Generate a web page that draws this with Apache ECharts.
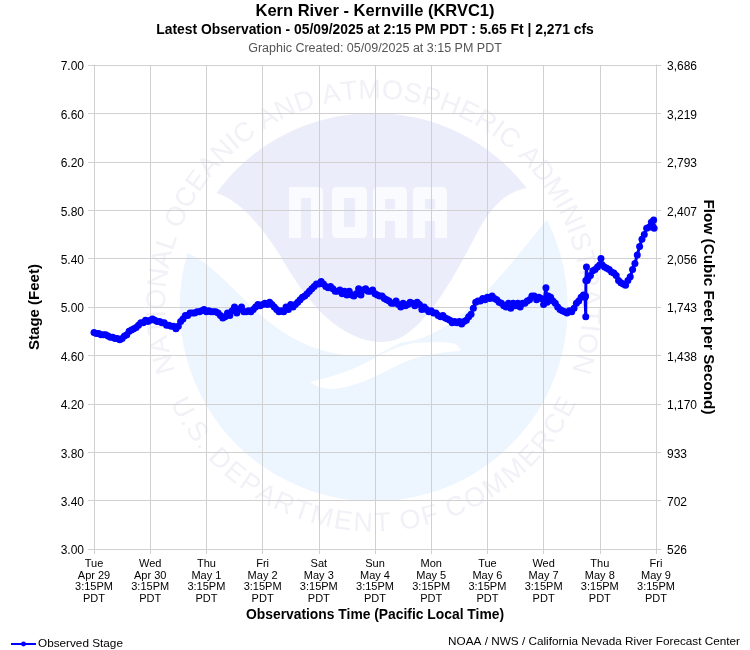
<!DOCTYPE html>
<html><head><meta charset="utf-8">
<style>html,body{margin:0;padding:0;background:#fff}#c{width:750px;height:650px}</style>
<script src="https://cdn.jsdelivr.net/npm/echarts@6/dist/echarts.min.js"></script>
</head><body><div id="c"></div>
<script>
var titleText = "Kern River - Kernville (KRVC1)";
var subtitleText = "Latest Observation - 05/09/2025 at 2:15 PM PDT : 5.65 Ft | 2,271 cfs";
var createdText = "Graphic Created: 05/09/2025 at 3:15 PM PDT";
var creditText = "NOAA / NWS / California Nevada River Forecast Center";
var xTickLabels = ["Tue\nApr 29\n3:15PM\nPDT","Wed\nApr 30\n3:15PM\nPDT","Thu\nMay 1\n3:15PM\nPDT","Fri\nMay 2\n3:15PM\nPDT","Sat\nMay 3\n3:15PM\nPDT","Sun\nMay 4\n3:15PM\nPDT","Mon\nMay 5\n3:15PM\nPDT","Tue\nMay 6\n3:15PM\nPDT","Wed\nMay 7\n3:15PM\nPDT","Thu\nMay 8\n3:15PM\nPDT","Fri\nMay 9\n3:15PM\nPDT"];
var flowTickLabels = ["526","702","933","1,170","1,438","1,743","2,056","2,407","2,793","3,219","3,686"];
// [hours after first tick, stage in feet]
var observedStage = [
[0,4.79],[1,4.78],[2,4.78],[3,4.77],[4,4.77],[5,4.77],[6,4.76],[7,4.75],[8,4.75],[9,4.74],[10,4.74],[11,4.73],[12,4.74],[13,4.76],[14,4.77],[15,4.80],[16,4.81],[17,4.82],[18,4.83],[19,4.85],[20,4.87],[21,4.87],[22,4.89],[23,4.88],
[24,4.89],[25,4.90],[26,4.89],[27,4.88],[28,4.88],[29,4.87],[30,4.87],[31,4.85],[32,4.85],[33,4.84],[34,4.84],[35,4.82],[36,4.84],[37,4.88],[38,4.90],[39,4.93],[40,4.93],[41,4.95],[42,4.95],[43,4.95],[44,4.96],[45,4.96],[46,4.97],[47,4.98],
[48,4.96],[49,4.97],[50,4.96],[51,4.96],[52,4.96],[53,4.95],[54,4.93],[55,4.91],[56,4.92],[57,4.95],[58,4.93],[59,4.97],[60,5.00],[61,4.95],[62,4.98],[63,5.00],[64,4.96],[65,4.96],[66,4.97],[67,4.96],[68,4.98],[69,5.00],[70,5.02],[71,5.01],
[72,5.02],[73,5.03],[74,5.02],[75,5.04],[76,5.02],[77,5.00],[78,4.98],[79,4.96],[80,4.97],[81,4.96],[82,5.00],[83,4.98],[84,5.02],[85,5.00],[86,5.02],[87,5.04],[88,5.06],[89,5.08],[90,5.09],[91,5.11],[92,5.13],[93,5.15],[94,5.17],[95,5.19],
[96,5.19],[97,5.21],[98,5.19],[99,5.17],[100,5.16],[101,5.17],[102,5.15],[103,5.13],[104,5.13],[105,5.14],[106,5.11],[107,5.13],[108,5.10],[109,5.13],[110,5.10],[111,5.09],[112,5.11],[113,5.15],[114,5.10],[115,5.14],[116,5.15],[117,5.13],[118,5.13],[119,5.14],
[120,5.11],[121,5.10],[122,5.09],[123,5.09],[124,5.07],[125,5.06],[126,5.05],[127,5.03],[128,5.03],[129,5.05],[130,5.02],[131,5.00],[132,5.03],[133,5.01],[134,5.02],[135,5.04],[136,5.03],[137,5.01],[138,5.04],[139,5.02],[140,4.98],[141,5.00],[142,4.98],[143,4.96],
[144,4.97],[145,4.95],[146,4.95],[147,4.93],[148,4.92],[149,4.93],[150,4.91],[151,4.90],[152,4.89],[153,4.87],[154,4.88],[155,4.87],[156,4.88],[157,4.86],[158,4.88],[159,4.89],[160,4.92],[161,4.94],[162,4.99],[163,5.04],[164,5.05],[165,5.05],[166,5.07],[167,5.06],
[168,5.08],[169,5.07],[170,5.09],[171,5.07],[172,5.06],[173,5.04],[174,5.03],[175,5.01],[176,5.00],[177,5.03],[178,4.99],[179,5.03],[180,5.01],[181,5.03],[182,5.00],[183,5.03],[184,5.03],[185,5.05],[186,5.06],[187,5.09],[188,5.09],[189,5.06],[190,5.08],[191,5.07],
[192,5.02],[193,5.16],[193.5,5.04],[194,5.09],[195,5.08],[196,5.05],[197,5.03],[198,5.00],[199,4.98],[200,4.97],[201,4.96],[202,4.95],[203,4.97],[204,4.96],[205,4.99],[206,5.03],[207,5.05],[208,5.08],[209,5.10],[209.7,5.08],[209.9,5.09],[210,4.92],[210.05,5.22],[210.3,5.33],[210.6,5.22],
[211,5.24],[212,5.26],[213,5.30],[214,5.31],[215,5.33],[216,5.35],[216.5,5.40],[217,5.35],[218,5.33],[219,5.32],[220,5.31],[221,5.29],[222,5.28],[223,5.26],[224,5.22],[225,5.20],[226,5.19],[227,5.18],[228,5.22],[229,5.25],[230,5.31],[231,5.36],[232,5.43],[233,5.50],[234,5.56],[235,5.60],[236,5.65],[237,5.66],[238,5.70],[238.5,5.67],[239,5.72],[239.2,5.65]
];

var c = echarts.init(document.getElementById('c'));
var FF = '"Liberation Sans", Arial, sans-serif';
var ink = '#ebedfa', sky = '#edf5fe', seal = '#f1f1f7';
var cx = 373.5, cy = 307;

function arcText(text, spanDeg, radius, bottom) {
  var m = document.createElement('canvas').getContext('2d');
  m.font = '27px "Liberation Sans"';
  var widths = text.split('').map(function (ch) { return m.measureText(ch).width; });
  var total = widths.reduce(function (a, b) { return a + b; }, 0);
  var pos = 0, out = [];
  text.split('').forEach(function (ch, i) {
    var f = (pos + widths[i] / 2) / total;
    pos += widths[i];
    var a = (-spanDeg / 2 + spanDeg * f) * Math.PI / 180;
    out.push({
      type: 'text', z: -1, silent: true,
      x: cx + radius * Math.sin(a),
      y: bottom ? cy + radius * Math.cos(a) : cy - radius * Math.cos(a),
      rotation: bottom ? a : -a,
      style: { text: ch, font: '27px "Liberation Sans"', fill: seal, textAlign: 'center', textVerticalAlign: 'middle' }
    });
  });
  return out;
}
var shapeCount = 0;
function pathEl(d, fill, z) {
  var name = 'wm' + (shapeCount++);
  echarts.graphic.registerShape(name, echarts.graphic.extendPath(d, {}));
  return { type: name, z: z, silent: true, style: { fill: fill } };
}
function blockLetter(x, isA) {
  var y0 = 187, y1 = 238, w = 34, s = 12;
  if (isA) return 'M' + (x + 5) + ' ' + y0 + 'L' + (x + w - 5) + ' ' + y0 + 'Q' + (x + w) + ' ' + y0 + ' ' + (x + w) + ' ' + (y0 + 5) + 'L' + (x + w) + ' ' + y1 + 'L' + (x + w - s) + ' ' + y1 + 'L' + (x + w - s) + ' ' + (y0 + 34) + 'L' + (x + s) + ' ' + (y0 + 34) + 'L' + (x + s) + ' ' + y1 + 'L' + x + ' ' + y1 + 'L' + x + ' ' + (y0 + 5) + 'Q' + x + ' ' + y0 + ' ' + (x + 5) + ' ' + y0 + 'Z';
  return 'M' + x + ' ' + y0 + 'L' + (x + w - 5) + ' ' + y0 + 'Q' + (x + w) + ' ' + y0 + ' ' + (x + w) + ' ' + (y0 + 5) + 'L' + (x + w) + ' ' + y1 + 'L' + (x + w - s) + ' ' + y1 + 'L' + (x + w - s) + ' ' + (y0 + 11) + 'L' + (x + s) + ' ' + (y0 + 11) + 'L' + (x + s) + ' ' + y1 + 'L' + x + ' ' + y1 + 'Z';
}
var shapes = [
  pathEl('M187.5 253 A194 194 0 1 0 547 220 C525 245 490 295 452 322 C430 337 415 341 400 343 L375 356 C340 358 300 350 262 316 C235 292 210 262 187.5 253 Z', sky, -3),
  pathEl('M216.5 193 A194 194 0 0 1 526.7 188 C505 192 490 208 476 235 C455 275 430 322 400 338 C385 345 365 343 345 331 C318 315 298 287 278 252 C258 222 240 201 216.5 193 Z', ink, -2),
  pathEl('M413 343 C430 342 445 342 452 343 C458 345 460 348 461 351 C440 352 420 355 400 364 C380 374 355 388 332 389 C322 389 315 386 310 382 C340 375 360 367 380 355 C392 349 403 345 413 343 Z', '#ffffff', -2),
  pathEl(blockLetter(289, false), '#fafbfe', -1),
  pathEl('M337 187L362 187Q367 187 367 192L367 233Q367 238 362 238L337 238Q332 238 332 233L332 192Q332 187 337 187ZM344 198L344 227L355 227L355 198Z', '#fafbfe', -1),
  pathEl(blockLetter(373, true), '#fafbfe', -1),
  pathEl(blockLetter(413, true), '#fafbfe', -1),
  { type: 'rect', z: -1, silent: true, shape: { x: 385, y: 199, width: 10, height: 10 }, style: { fill: ink } },
  { type: 'rect', z: -1, silent: true, shape: { x: 425, y: 199, width: 10, height: 10 }, style: { fill: ink } }
].concat(arcText('NATIONAL OCEANIC AND ATMOSPHERIC ADMINISTRATION', 216, 216, false))
 .concat(arcText('U.S. DEPARTMENT OF COMMERCE', 130, 217, true));

c.setOption({
  animation: false,
  backgroundColor: '#fff',
  textStyle: { fontFamily: FF },
  title: [
    { text: titleText, left: 375, top: 3, padding: 0, textAlign: 'center', textStyle: { fontFamily: FF, fontSize: 16.5, fontWeight: 'bold', color: '#000' } },
    { text: subtitleText, left: 375, top: 23, padding: 0, textAlign: 'center', textStyle: { fontFamily: FF, fontSize: 13.87, fontWeight: 'bold', color: '#000' } },
    { text: createdText, left: 375, top: 42, padding: 0, textAlign: 'center', textStyle: { fontFamily: FF, fontSize: 12.5, fontWeight: 'normal', color: '#555' } },
    { text: creditText, right: 10, top: 636, padding: 0, textStyle: { fontFamily: FF, fontSize: 11.75, fontWeight: 'normal', color: '#000' } }
  ],
  graphic: { elements: shapes },
  grid: { left: 94, right: 94, top: 65, bottom: 101, containLabel: false },
  legend: { left: 10, top: 638, padding: 0, itemWidth: 25, itemHeight: 6, data: ['Observed Stage'], textStyle: { fontFamily: FF, fontSize: 11.75, color: '#000', padding: [0, 0, 0, -3] } },
  xAxis: {
    type: 'value', min: 0, max: 240, interval: 24,
    name: 'Observations Time (Pacific Local Time)', nameLocation: 'middle', nameGap: 59, nameMoveOverlap: false,
    nameTextStyle: { fontFamily: FF, fontSize: 13.85, fontWeight: 'bold', color: '#000' },
    axisLine: { show: true, lineStyle: { color: '#d0d0d0' } },
    axisTick: { show: true, length: 5, lineStyle: { color: '#d0d0d0' } },
    splitLine: { show: true, lineStyle: { color: '#d0d0d0', width: 1 } },
    axisLabel: { margin: 9, fontFamily: FF, fontSize: 11, lineHeight: 11.7, color: '#000', showMinLabel: true, showMaxLabel: true, hideOverlap: false,
      formatter: function (v) { return xTickLabels[Math.round(v / 24)]; } }
  },
  yAxis: [
    { type: 'value', min: 3, max: 7, interval: 0.4, position: 'left',
      name: 'Stage (Feet)', nameLocation: 'middle', nameGap: 52, nameRotate: 90, nameMoveOverlap: false,
      nameTextStyle: { fontFamily: FF, fontSize: 15, fontWeight: 'bold', color: '#000' },
      axisLine: { show: true, lineStyle: { color: '#d0d0d0' } },
      axisTick: { show: true, length: 6, lineStyle: { color: '#d0d0d0' } },
      splitLine: { show: true, lineStyle: { color: '#d0d0d0', width: 1 } },
      axisLabel: { margin: 10, fontFamily: FF, fontSize: 12, color: '#000', verticalAlign: 'top', lineHeight: 4, formatter: function (v) { return v.toFixed(2); } } },
    { type: 'value', min: 3, max: 7, interval: 0.4, position: 'right',
      name: 'Flow (Cubic Feet per Second)', nameLocation: 'middle', nameGap: 44.5, nameRotate: -90, nameMoveOverlap: false,
      nameTextStyle: { fontFamily: FF, fontSize: 15.3, fontWeight: 'bold', color: '#000' },
      axisLine: { show: true, lineStyle: { color: '#d0d0d0' } },
      axisTick: { show: true, length: 5, lineStyle: { color: '#d0d0d0' } },
      splitLine: { show: false },
      axisLabel: { margin: 11, fontFamily: FF, fontSize: 12, color: '#000', verticalAlign: 'top', lineHeight: 4, formatter: function (v) { return flowTickLabels[Math.round((v - 3) / 0.4)]; } } }
  ],
  series: [{
    name: 'Observed Stage', type: 'line', yAxisIndex: 0,
    data: observedStage,
    symbol: 'circle', symbolSize: 7, showSymbol: true, showAllSymbols: true,
    lineStyle: { color: '#0000ff', width: 3 },
    itemStyle: { color: '#0000ff' }, z: 5
  }]
});
</script></body></html>
